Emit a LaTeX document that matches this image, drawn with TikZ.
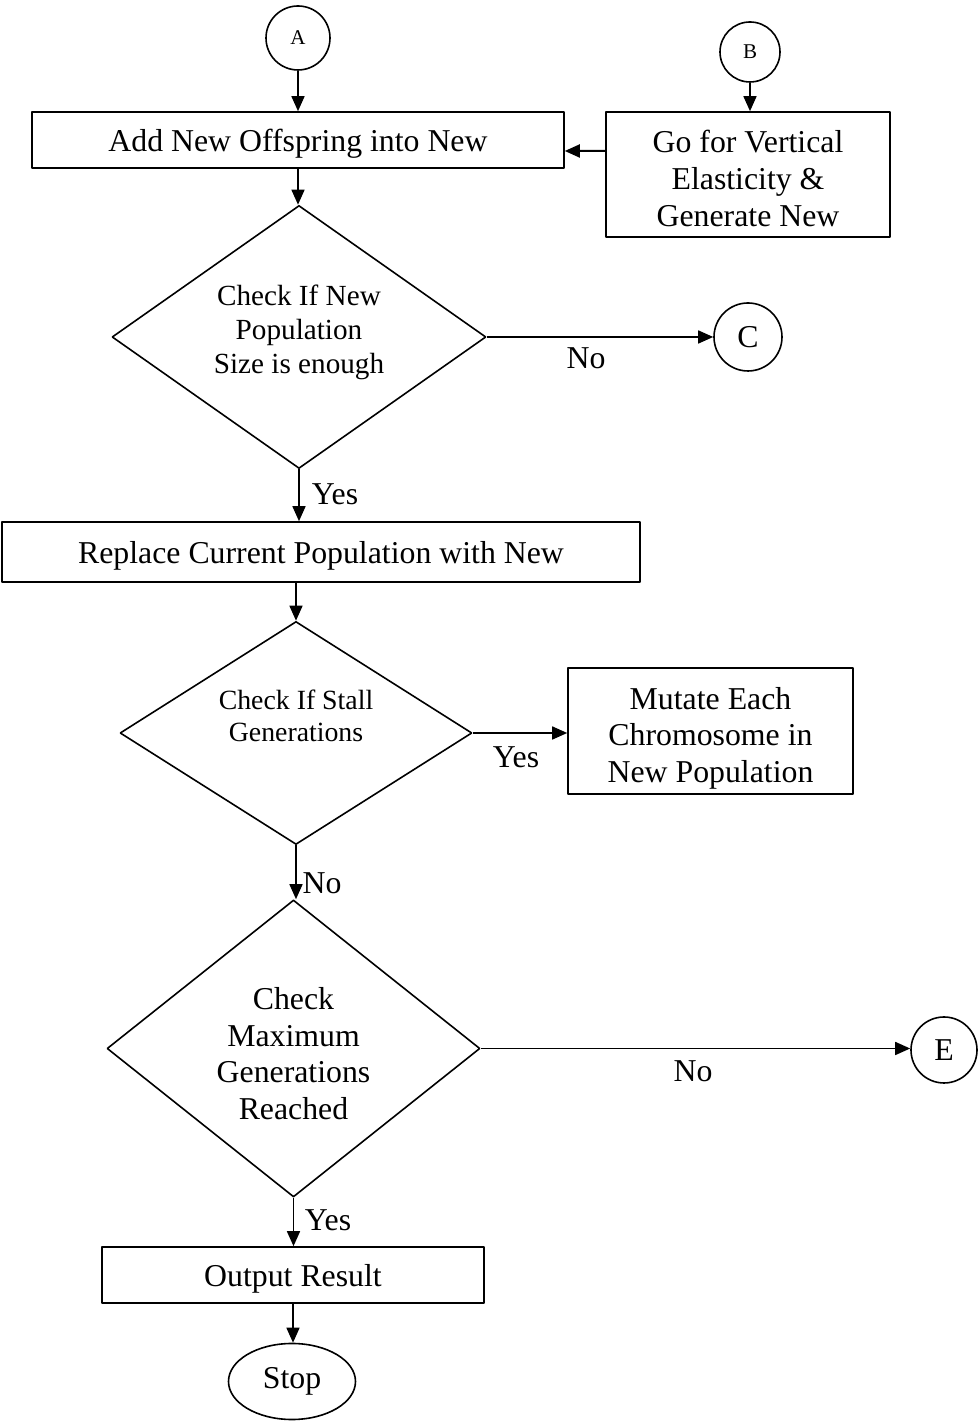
\documentclass[tikz,border=0pt]{standalone}
\usepackage{fontspec}
\setmainfont{Liberation Serif}
\usetikzlibrary{shapes.geometric,arrows.meta}

\begin{document}
\begin{tikzpicture}[>={Triangle[length=7.5bp,width=6.5bp]},line join=bevel,line width=0.8bp,
  box/.style={draw,rectangle,inner sep=0pt,align=center,text depth=0pt,font=\fontsize{15.9bp}{18.4bp}\selectfont},
  decision/.style={draw,diamond,inner sep=0pt,align=center},
  connector/.style={draw,circle,inner sep=0pt},
  tag/.style={font=\fontsize{15.9bp}{18.4bp}\selectfont}]
\useasboundingbox (0bp,0bp) rectangle (489bp,710.5bp);
%%
\node (node_a) at (149bp,691.5bp) [connector,minimum size=32bp,font=\fontsize{10.5bp}{12bp}\selectfont] {A};
  \node (node_b) at (375bp,684.5bp) [connector,minimum size=30bp,font=\fontsize{10.5bp}{12bp}\selectfont] {B};
  \node (node_add) at (149bp,640.5bp) [box,minimum width=266bp,minimum height=28bp] {Add New Offspring into New};
  \node (node_elastic) at (374bp,623.25bp) [box,minimum width=142bp,minimum height=62.5bp] {\rule{0pt}{15bp}Go for Vertical\\Elasticity \&\\Generate New};
  \node (node_size) at (149.5bp,542bp) [decision,minimum width=187bp,minimum height=131.5bp,shape aspect=1.42,text depth=8bp,font=\fontsize{14.6bp}{17bp}\selectfont] {Check If New\\Population\\Size is enough};
  \node (node_c) at (374bp,542bp) [connector,minimum size=34bp,tag] {C};
  \node (node_replace) at (160.5bp,434.5bp) [box,minimum width=319bp,minimum height=30bp] {Replace Current Population with New};
  \node (node_stall) at (148bp,344bp) [decision,minimum width=176bp,minimum height=111.5bp,shape aspect=1.58,text depth=17bp,font=\fontsize{13.9bp}{16bp}\selectfont] {Check If Stall\\Generations};
  \node (node_mutate) at (355.25bp,345bp) [box,minimum width=142.5bp,minimum height=63bp] {\rule{0pt}{15bp}Mutate Each\\Chromosome in\\New Population};
  \node (node_max) at (146.75bp,186.25bp) [decision,minimum width=186.5bp,minimum height=148.5bp,shape aspect=1.26,text depth=0pt,font=\fontsize{15.9bp}{18.4bp}\selectfont] {\rule{0pt}{16bp}Check\\Maximum\\Generations\\Reached};
  \node (node_e) at (472bp,185.5bp) [connector,minimum size=33bp,tag] {E};
  \node (node_out) at (146.5bp,73bp) [box,minimum width=191bp,minimum height=28bp] {Output Result};
  \node (node_stop) at (146bp,19.75bp) [draw,ellipse,minimum width=63.5bp,minimum height=38bp,inner sep=0pt,tag] {Stop};
%
  \node (lbl_size_no) at (293bp,531.5bp) [tag] {No};
  \node (lbl_size_yes) at (167.5bp,463.5bp) [tag] {Yes};
  \node (lbl_stall_yes) at (258bp,332bp) [tag] {Yes};
  \node (lbl_stall_no) at (161bp,269bp) [tag] {No};
  \node (lbl_max_no) at (346.5bp,175bp) [tag] {No};
  \node (lbl_max_yes) at (164bp,100.5bp) [tag] {Yes};
%
  \draw [->] (node_a) -- (node_add);
  \draw [->] (node_b) -- (node_b |- node_elastic.north);
  \draw [->,line width=1bp] ([yshift=11.75bp]node_elastic.west) -- ([yshift=-5.5bp]node_add.east);
  \draw [->] (node_add.south) -- (node_add.south |- node_size.north);
  \draw [->] (node_size) -- (node_c);
  \draw [->] (node_size.south) -- (node_size.south |- node_replace.north);
  \draw [->] (node_stall.north |- node_replace.south) -- (node_stall.north);
  \draw [->] (node_stall.east) -- (node_stall.east -| node_mutate.west);
  \draw [->] (node_stall.south) -- (node_stall.south |- node_max.north);
  \draw [->] (node_max.east) -- (node_max.east -| node_e.west);
  \draw [->] (node_max.south) -- (node_max.south |- node_out.north);
  \draw [->] (node_out.south) -- (node_out.south |- node_stop.north);
%
\end{tikzpicture}
\end{document}
